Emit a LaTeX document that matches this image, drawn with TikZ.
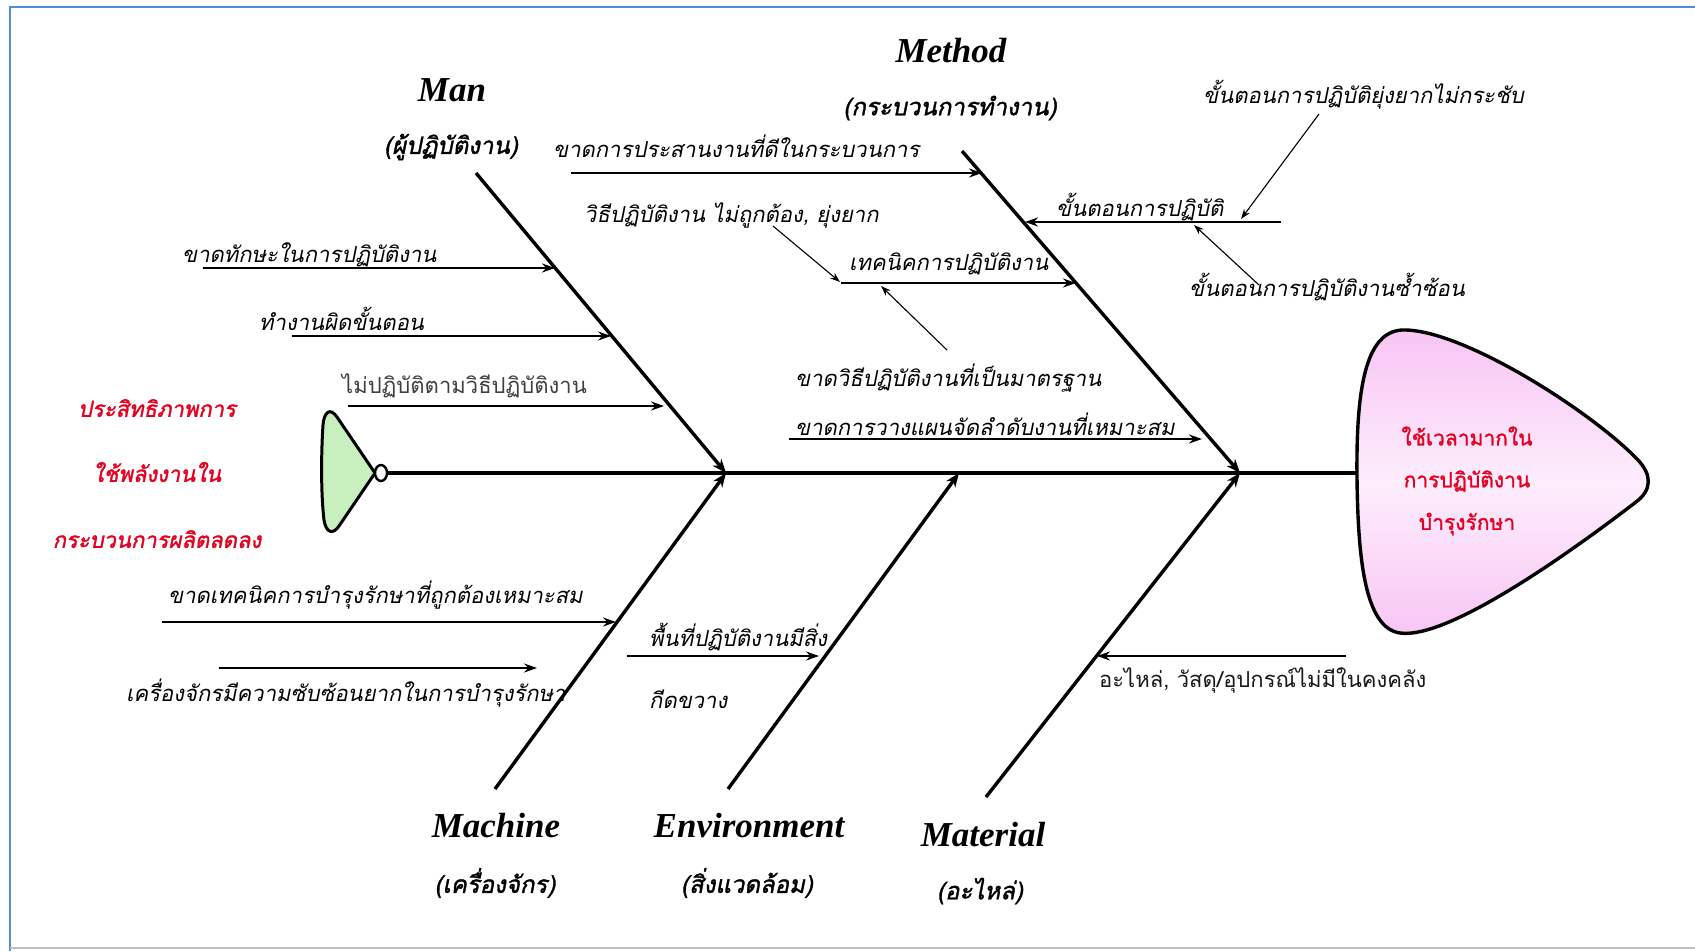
\documentclass[tikz,border=0pt]{standalone}
\usepackage{fontspec}
\setmainfont{Liberation Serif}
\newfontfamily\thai[Script=Thai]{Loma}
\newfontfamily\thaiit[Script=Thai,FakeSlant=0.2]{Loma}
\newfontfamily\thaibi[Script=Thai,FakeSlant=0.2,FakeBold=1.5]{Loma}
\newfontfamily\thaibf[Script=Thai,FakeBold=1.2]{Loma}
\usetikzlibrary{arrows.meta}
\definecolor{frameblue}{RGB}{84,141,212}
\definecolor{fishred}{RGB}{228,0,32}
\definecolor{tailgreen}{RGB}{200,240,190}
\definecolor{headpink}{RGB}{248,196,244}
\begin{document}
\begin{tikzpicture}[x=1pt,y=-1pt,
  spine/.style={line width=4.5pt},
  bone/.style={line width=3.4pt,-{Stealth[length=14pt,width=11pt]}},
  cause/.style={line width=2.4pt,-{Stealth[length=13pt,width=9pt]}},
  pointer/.style={line width=1.1pt,-{Stealth[length=10pt,width=7pt]}},
  cat/.style={font=\fontsize{35}{40}\selectfont\bfseries\itshape, inner sep=0},
  catth/.style={font=\thaibi\fontsize{24}{28}\selectfont, inner sep=0},
  txt/.style={font=\thaiit\fontsize{22}{26}\selectfont, inner sep=0, anchor=base west},
  txtup/.style={font=\thai\fontsize{22}{26}\selectfont, text=black!75, inner sep=0, anchor=base west},
  redtxt/.style={font=\thaibi\fontsize{22}{26}\selectfont, text=fishred, inner sep=0},
  headtxt/.style={font=\thaibf\fontsize{21}{25}\selectfont, text=fishred, inner sep=0},
]
\useasboundingbox (0,0) rectangle (1695,951);
\fill[white] (0,0) rectangle (1695,951);

% page frame
\draw[frameblue, line width=1.6pt] (10,951) -- (10,7) -- (1695,7);
\draw[black!25, line width=1.2pt] (10,948) -- (1695,948);

% head of the fish
\draw[line width=3.4pt, top color=headpink, bottom color=headpink, middle color=headpink!30]
  (1357,478) .. controls (1356,390) and (1365,332) .. (1402,330)
  .. controls (1460,328) and (1590,410) .. (1638,460)
  .. controls (1652,475) and (1652,490) .. (1636,502)
  .. controls (1580,545) and (1450,640) .. (1400,633)
  .. controls (1365,628) and (1358,560) .. (1357,478) -- cycle;

% tail of the fish
\draw[line width=3pt, fill=tailgreen]
  (375,473) -- (337,417) .. controls (330,407) and (324,412) .. (323,425)
  .. controls (321,455) and (321,495) .. (324,520)
  .. controls (326,533) and (333,535) .. (339,526) -- cycle;
\draw[line width=2.4pt, fill=white] (381,473) ellipse [x radius=6, y radius=8];

% spine and joints
\coordinate (tailjoin) at (387,473);
\coordinate (headjoin) at (1357,473);
\coordinate (jman) at (726,473);
\coordinate (jmeth) at (1240,473);
\coordinate (jenv) at (959,473);
\draw[spine] (tailjoin) -- (headjoin);

% main bones
\coordinate (manTop) at (476,173);
\coordinate (methTop) at (962,151);
\coordinate (machBot) at (495,789);
\coordinate (envBot) at (728,789);
\coordinate (matBot) at (986,797);
\draw[bone] (manTop) -- (jman);
\draw[bone] (machBot) -- (jman);
\draw[bone] (methTop) -- (jmeth);
\draw[bone] (matBot) -- (jmeth);
\draw[bone] (envBot) -- (jenv);

% category labels
\node[cat] (lman) at (452,90) {Man};
\node[catth] (lmanth) at (451,147) {(ผู้ปฏิบัติงาน)};
\node[cat] (lmeth) at (951,51) {Method};
\node[catth] (lmethth) at (950,108) {(กระบวนการทำงาน)};
\node[cat] (lmach) at (496,826) {Machine};
\node[catth] (lmachth) at (495,883) {(เครื่องจักร)};
\node[cat] (lenv) at (749,826) {Environment};
\node[catth] (lenvth) at (747,883) {(สิ่งแวดล้อม)};
\node[cat] (lmat) at (983,835) {Material};
\node[catth] (lmatth) at (980,891) {(อะไหล่)};

% effect inside the head
\node[headtxt] (h1) at (1467,436) {ใช้เวลามากใน};
\node[headtxt] (h2) at (1467,481) {การปฏิบัติงาน};
\node[headtxt] (h3) at (1467,524) {บำรุงรักษา};

% note beside the tail
\node[redtxt] (r1) at (157,408) {ประสิทธิภาพการ};
\node[redtxt] (r2) at (157,472) {ใช้พลังงานใน};
\node[redtxt] (r3) at (157,539) {กระบวนการผลิตลดลง};

% Man causes
\node[txt] (m1) at (182,262) {ขาดทักษะในการปฏิบัติงาน};
\coordinate (m1s) at (203,268); \coordinate (m1e) at (555,268);
\draw[cause] (m1s) -- (m1e);
\node[txt] (m2) at (259,330) {ทำงานผิดขั้นตอน};
\coordinate (m2s) at (292,336); \coordinate (m2e) at (611,336);
\draw[cause] (m2s) -- (m2e);
\node[txtup] (m3) at (342,393) {ไม่ปฏิบัติตามวิธีปฏิบัติงาน};
\coordinate (m3s) at (348,406); \coordinate (m3e) at (664,406);
\draw[cause] (m3s) -- (m3e);

% Method causes
\node[txt] (t1) at (553,157) {ขาดการประสานงานที่ดีในกระบวนการ};
\coordinate (t1s) at (571,173); \coordinate (t1e) at (982,173);
\draw[cause] (t1s) -- (t1e);
\node[txt] (t2) at (584,222) {วิธีปฏิบัติงาน ไม่ถูกต้อง, ยุ่งยาก};
\coordinate (t2a) at (773,226); \coordinate (t2b) at (840,282);
\draw[pointer] (t2a) -- (t2b);
\node[txt] (t3) at (849,270) {เทคนิคการปฏิบัติงาน};
\coordinate (t3s) at (841,283); \coordinate (t3e) at (1076,283);
\draw[cause] (t3s) -- (t3e);
\coordinate (t4a) at (947,350); \coordinate (t4b) at (881,286);
\draw[pointer] (t4a) -- (t4b);
\node[txt] (t5) at (795,386) {ขาดวิธีปฏิบัติงานที่เป็นมาตรฐาน};
\node[txt] (t6) at (795,435) {ขาดการวางแผนจัดลำดับงานที่เหมาะสม};
\coordinate (t6s) at (789,439); \coordinate (t6e) at (1202,439);
\draw[cause] (t6s) -- (t6e);
\node[txt] (t7) at (1056,216) {ขั้นตอนการปฏิบัติ};
\coordinate (t7s) at (1281,222); \coordinate (t7e) at (1025,222);
\draw[cause] (t7s) -- (t7e);
\node[txt] (t8) at (1203,103) {ขั้นตอนการปฏิบัติยุ่งยากไม่กระชับ};
\coordinate (t8a) at (1319,114); \coordinate (t8b) at (1241,219);
\draw[pointer] (t8a) -- (t8b);
\node[txt] (t9) at (1189,296) {ขั้นตอนการปฏิบัติงานซ้ำซ้อน};
\coordinate (t9a) at (1259,285); \coordinate (t9b) at (1194,225);
\draw[pointer] (t9a) -- (t9b);

% Machine causes
\node[txt] (c1) at (168,603) {ขาดเทคนิคการบำรุงรักษาที่ถูกต้องเหมาะสม};
\coordinate (c1s) at (162,622); \coordinate (c1e) at (616,622);
\draw[cause] (c1s) -- (c1e);
\coordinate (c2s) at (219,668); \coordinate (c2e) at (537,668);
\draw[cause] (c2s) -- (c2e);
\node[txt] (c3) at (126,701) {เครื่องจักรมีความซับซ้อนยากในการบำรุงรักษา};

% Environment causes
\node[txt] (e1) at (649,646) {พื้นที่ปฏิบัติงานมีสิ่ง};
\coordinate (e1s) at (627,656); \coordinate (e1e) at (819,656);
\draw[cause] (e1s) -- (e1e);
\node[txt] (e2) at (649,708) {กีดขวาง};

% Material causes
\coordinate (a1s) at (1346,656); \coordinate (a1e) at (1097,656);
\draw[cause] (a1s) -- (a1e);
\node[txtup, text=black!90] (a2) at (1099,687) {อะไหล่, วัสดุ/อุปกรณ์ไม่มีในคงคลัง};
\end{tikzpicture}
\end{document}
